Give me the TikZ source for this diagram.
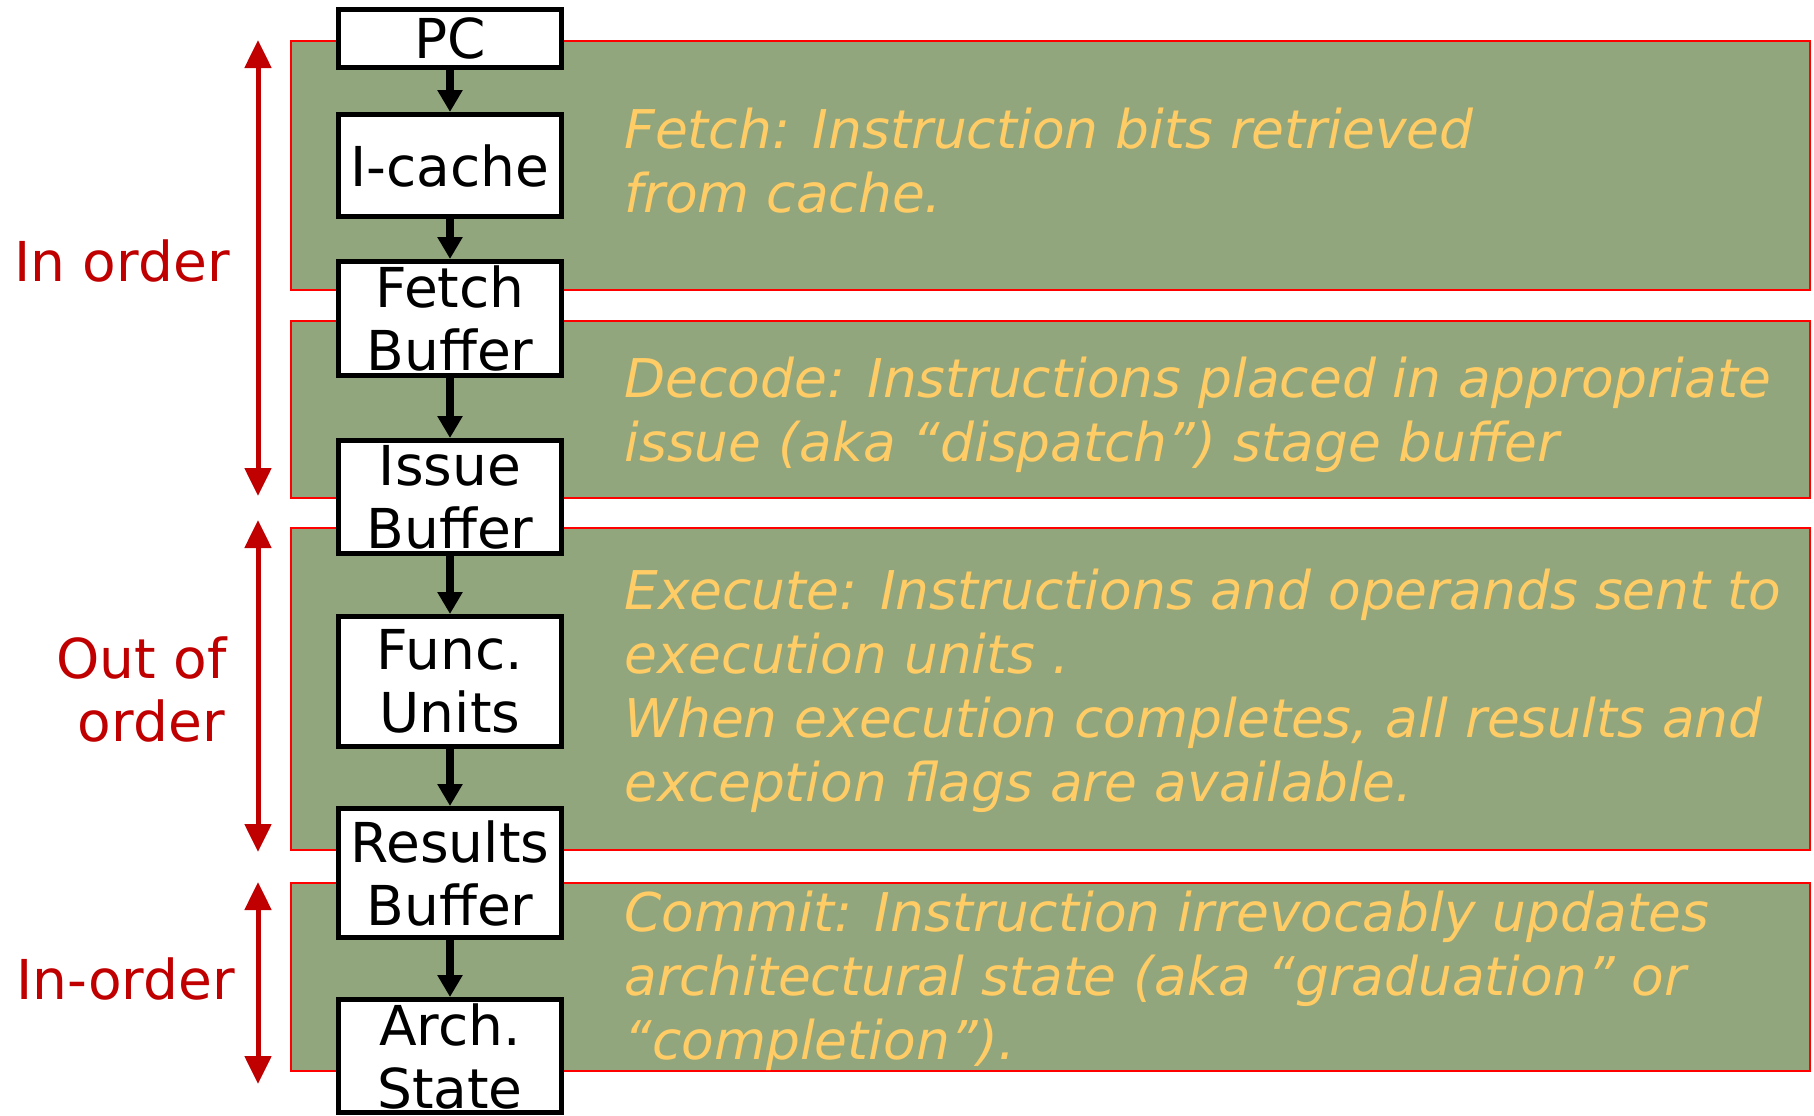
\documentclass[tikz,border=0pt]{standalone}
\usepackage{fontspec}
\setmainfont{DejaVu Sans}
\usetikzlibrary{arrows.meta}
\definecolor{panelfill}{RGB}{145,166,125}
\definecolor{paneltext}{RGB}{255,204,102}
\definecolor{darkred}{RGB}{192,0,0}
\begin{document}
\begin{tikzpicture}[x=0.5pt,y=-0.5pt,
  panel/.style={draw=red, line width=1pt, fill=panelfill},
  stage/.style={draw=black, line width=2.5pt, fill=white, minimum width=111.5pt, inner sep=0pt, align=center, font=\fontsize{27.5}{31.5}\selectfont},
  desc/.style={anchor=base west, inner sep=0pt, text=paneltext, font=\fontsize{26.7}{32}\selectfont\itshape},
  side/.style={inner sep=0pt, text=darkred, font=\fontsize{27.5}{32}\selectfont},
  flow/.style={draw=black, line width=4pt, -{Triangle[width=12pt,length=11pt]}},
  span/.style={draw=darkred, line width=2.5pt, {Triangle[width=13pt,length=14pt]}-{Triangle[width=13pt,length=14pt]}},
]
\useasboundingbox (0,0) rectangle (1814,1115);

% panels
\path[panel] (291,41) rectangle (1810,290);
\path[panel] (291,321) rectangle (1810,498);
\path[panel] (291,528) rectangle (1810,850);
\path[panel] (291,883) rectangle (1810,1071);

% panel texts
\node[desc] (t1a) at (624,148) {Fetch: Instruction bits retrieved};
\node[desc] (t1b) at (624,212) {from cache.};
\node[desc] (t2a) at (624,397) {Decode: Instructions placed in appropriate};
\node[desc] (t2b) at (624,461) {issue (aka “dispatch”) stage buffer};
\node[desc] (t3a) at (624,609) {Execute: Instructions and operands sent to};
\node[desc] (t3b) at (624,673) {execution units .};
\node[desc] (t3c) at (624,737) {When execution completes, all results and};
\node[desc] (t3d) at (624,801) {exception flags are available.};
\node[desc] (t4a) at (624,931) {Commit: Instruction irrevocably updates};
\node[desc] (t4b) at (624,995) {architectural state (aka “graduation” or};
\node[desc] (t4c) at (624,1059) {“completion”).};

% stage boxes
\node[stage, minimum height=29pt]   (pc)   at (450,38.75) {PC};
\node[stage, minimum height=51pt]   (ic)   at (450,165.5) {I-cache};
\node[stage, minimum height=57pt]   (fb)   at (450,318.5) {Fetch\\Buffer};
\node[stage, minimum height=56.5pt] (ib)   at (450,497) {Issue\\Buffer};
\node[stage, minimum height=65pt]   (fu)   at (450,681.5) {Func.\\Units};
\node[stage, minimum height=64.5pt] (rb)   at (450,873) {Results\\Buffer};
\node[stage, minimum height=56.5pt] (as)   at (450,1056) {Arch.\\State};

\draw[flow] (pc) -- (ic);
\draw[flow] (ic) -- (fb);
\draw[flow] (fb) -- (ib);
\draw[flow] (ib) -- (fu);
\draw[flow] (fu) -- (rb);
\draw[flow] (rb) -- (as);

% side spans
\coordinate (s1t) at (258,40);
\coordinate (s1b) at (258,496);
\coordinate (s2t) at (258,520);
\coordinate (s2b) at (258,852);
\coordinate (s3t) at (258,882);
\coordinate (s3b) at (258,1084);
\draw[span] (s1t) -- (s1b);
\draw[span] (s2t) -- (s2b);
\draw[span] (s3t) -- (s3b);

\node[side, anchor=base west] (l1) at (14,281) {In order};
\node[side, anchor=base east] (l2a) at (227,678) {Out of};
\node[side, anchor=base east] (l2b) at (225,741) {order};
\node[side, anchor=base west] (l3) at (16,999) {In-order};
\end{tikzpicture}
\end{document}
